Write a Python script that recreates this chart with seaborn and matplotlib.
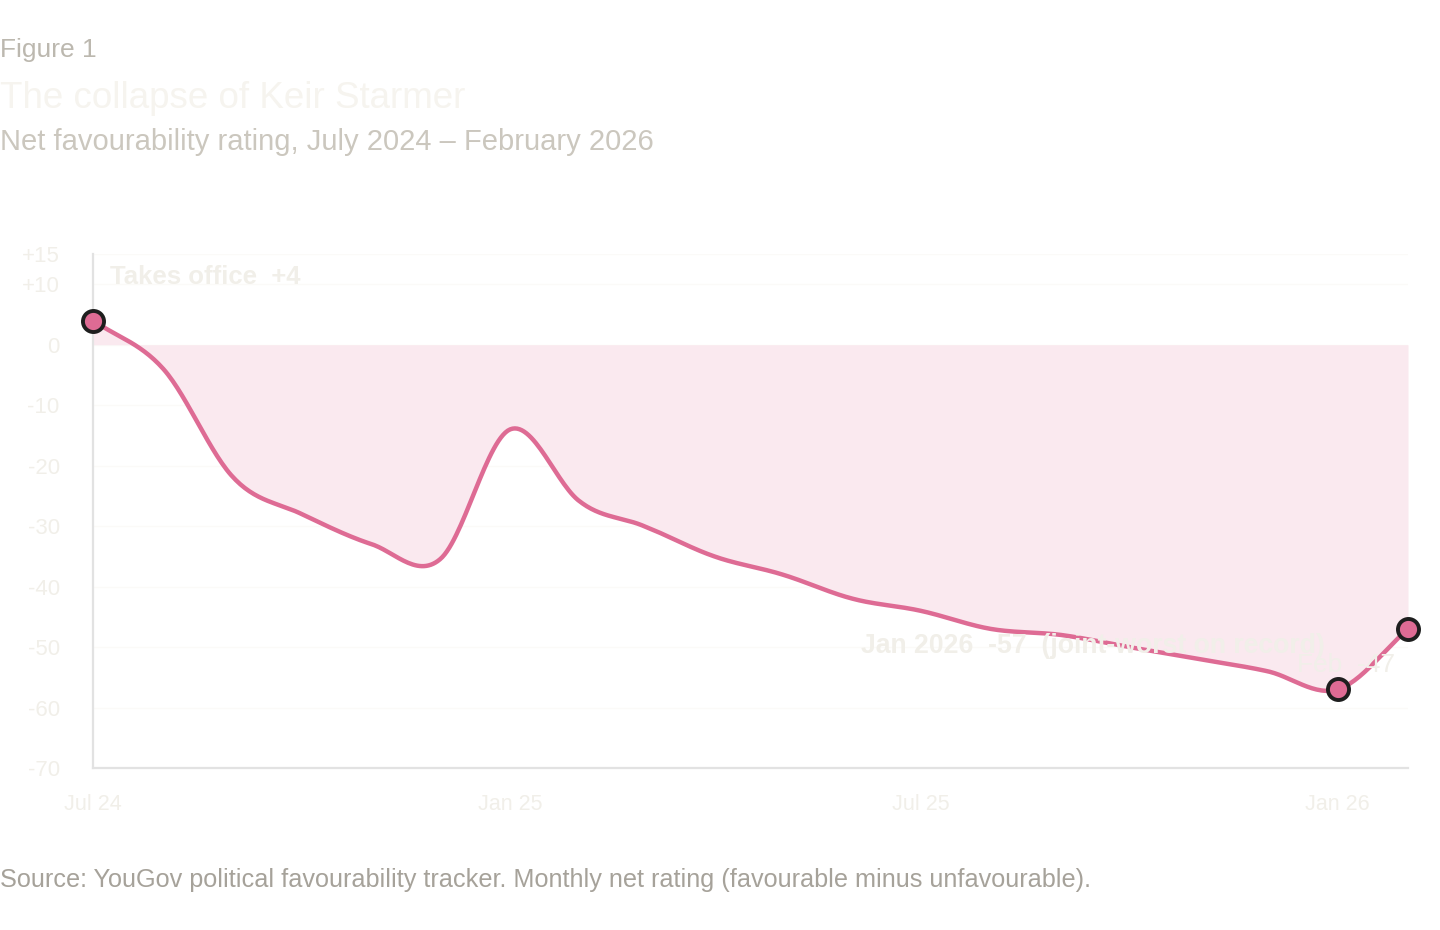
import matplotlib
matplotlib.use("Agg")
import matplotlib.pyplot as plt
import matplotlib.dates as mdates
import numpy as np
import pandas as pd
import seaborn as sns

# monthly net favourability (favourable minus unfavourable)
months = pd.date_range("2024-07-01", "2026-02-01", freq="MS")
net_rating = [4, -4, -22, -28, -33, -35.5, -14, -26, -30, -35,
              -38, -42, -44, -47, -48, -50, -52, -54, -57, -47]

highlight_months = ["2024-07-01", "2026-01-01", "2026-02-01"]

y_ticks = [15, 10, 0, -10, -20, -30, -40, -50, -60, -70]
y_tick_labels = ["+15", "+10", "0", "-10", "-20", "-30", "-40", "-50", "-60", "-70"]
x_tick_dates = ["2024-07-01", "2025-01-01", "2025-07-01", "2026-01-01"]
x_tick_labels = ["Jul 24", "Jan 25", "Jul 25", "Jan 26"]

LINE = "#de6b94"
FILL = "#fae9ef"
FAINT = "#f1efe9"


def catmull_rom(x, y, steps=30):
    # uniform catmull-rom through every point, x kept linear per segment
    x = np.asarray(x, dtype=float)
    y = np.asarray(y, dtype=float)
    n = len(y)
    m = np.zeros(n)
    m[1:-1] = (y[2:] - y[:-2]) / 2
    m[0] = y[1] - y[0]
    m[-1] = y[-1] - y[-2]
    xs, ys = [], []
    for i in range(n - 1):
        t = np.linspace(0, 1, steps, endpoint=(i == n - 2))
        h00 = 2 * t**3 - 3 * t**2 + 1
        h10 = t**3 - 2 * t**2 + t
        h01 = -2 * t**3 + 3 * t**2
        h11 = t**3 - t**2
        ys.append(h00 * y[i] + h10 * m[i] + h01 * y[i + 1] + h11 * m[i + 1])
        xs.append(x[i] + t * (x[i + 1] - x[i]))
    return np.concatenate(xs), np.concatenate(ys)


df = pd.DataFrame({"month": months, "net": net_rating})
xs, ys = catmull_rom(mdates.date2num(df["month"]), df["net"])
smooth = pd.DataFrame({"month": mdates.num2date(xs), "net": ys})
smooth["month"] = smooth["month"].dt.tz_localize(None)
points = df[df["month"].isin(pd.to_datetime(highlight_months))]

sns.set_theme(style="white")
plt.rcParams["font.family"] = ["Liberation Sans", "DejaVu Sans"]

fig = plt.figure(figsize=(14.4, 9.3), dpi=100)
ax = fig.add_axes([93 / 1440, 1 - 768 / 930, (1408 - 93) / 1440, (768 - 254) / 930])

ax.fill_between(smooth["month"], smooth["net"], 0, color=FILL, linewidth=0, zorder=1)
sns.lineplot(data=smooth, x="month", y="net", color=LINE, linewidth=3.2, ax=ax, zorder=3)
sns.scatterplot(data=points, x="month", y="net", color=LINE, edgecolor="#1e1e1e",
                linewidth=2.8, s=230, ax=ax, zorder=4, clip_on=False)

ax.set_xlim(months[0], months[-1])
ax.set_ylim(-70, 15)
ax.set_yticks(y_ticks)
ax.set_yticklabels(y_tick_labels)
ax.set_xticks(pd.to_datetime(x_tick_dates))
ax.set_xticklabels(x_tick_labels)
ax.set_xlabel("")
ax.set_ylabel("")
for yv in y_ticks:
    ax.axhline(yv, color="#fbfaf8", linewidth=1.0, zorder=0)
ax.tick_params(axis="y", colors=FAINT, labelsize=16, length=0, pad=24)
ax.tick_params(axis="x", colors=FAINT, labelsize=15.5, length=0, pad=19)
for lbl in ax.get_yticklabels() + ax.get_xticklabels():
    lbl.set_color(FAINT)
sns.despine(ax=ax)
for side in ["left", "bottom"]:
    ax.spines[side].set_color("#e2e2e2")
    ax.spines[side].set_linewidth(1.6)

# annotations
ann = dict(textcoords="offset points", color=FAINT, va="center", zorder=5)
ax.annotate("Takes office  +4", xy=(months[0], 4), xytext=(12, 31), ha="left",
            fontweight="bold", fontsize=18.5, **ann)
ax.annotate("Jan 2026  -57  (joint-worst on record)", xy=(months[-2], -57),
            xytext=(-9, 31), ha="right", fontweight="bold", fontsize=19.2, **ann)
ax.annotate("Feb  -47", xy=(months[-1], -47), xytext=(-9, -26), ha="right",
            fontsize=19, **ann)

# header and footer
fig.text(0.0, 1 - 50 / 930, "Figure 1", fontsize=19, color="#bcb8af", va="center")
fig.text(0.0, 1 - 99 / 930, "The collapse of Keir Starmer", fontsize=26.5,
         color="#f6f4ef", va="center")
fig.text(0.0, 1 - 142 / 930, "Net favourability rating, July 2024 \u2013 February 2026",
         fontsize=21, color="#cbc7be", va="center")
fig.text(0.0, 1 - 880 / 930,
         "Source: YouGov political favourability tracker. Monthly net rating "
         "(favourable minus unfavourable).",
         fontsize=18.2, color="#a6a29a", va="center")

fig.savefig("out.png", dpi=100, facecolor="white")
